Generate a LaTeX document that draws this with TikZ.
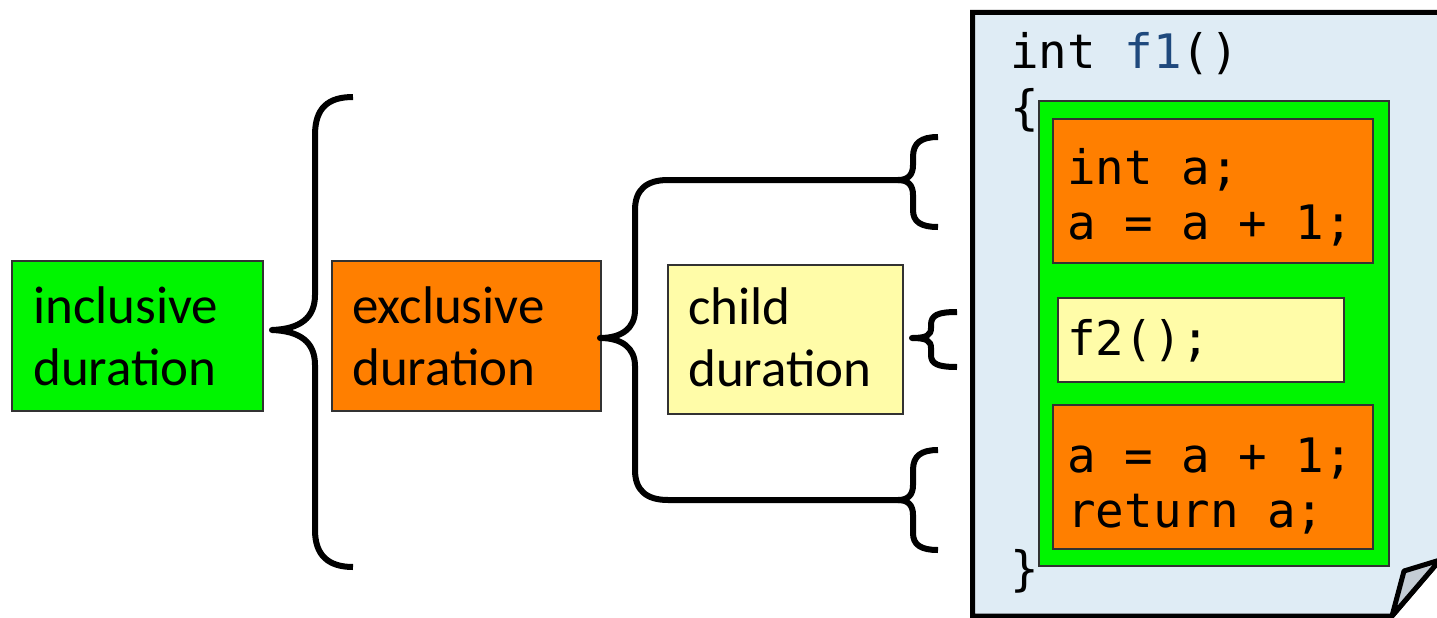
\documentclass[tikz,border=0pt]{standalone}
\usepackage{fontspec}
\setmainfont{Carlito}
\newfontfamily\codefont{DejaVu Sans Mono}
\definecolor{incgreen}{RGB}{0,245,0}
\definecolor{excorange}{RGB}{255,127,0}
\definecolor{childyellow}{RGB}{255,252,168}
\definecolor{pageblue}{RGB}{223,236,245}
\definecolor{flapgray}{RGB}{196,205,213}
\definecolor{fblue}{RGB}{31,73,125}
\definecolor{edgegray}{RGB}{50,50,50}
\frenchspacing
\begin{document}
\begin{tikzpicture}[x=1pt,y=-1pt,
  box/.style={draw=edgegray, line width=1.5pt, inner sep=0pt, anchor=north west},
  lbl/.style={font=\fontsize{53}{62}\selectfont, text width=240pt, align=left, inner sep=0pt, anchor=base west},
  code/.style={font=\codefont\fontsize{47.5}{55}\selectfont, inner sep=0pt, anchor=base west,
    execute at begin node={\spaceskip=\fontdimen2\font\xspaceskip=\fontdimen2\font\relax}},
  codeblk/.style={code, text width=320pt},
  brace/.style={line width=6pt, line join=round}]
\useasboundingbox (0,0) rectangle (1437,618);
\clip (0,0) rectangle (1437,618);

% left boxes
\node[box, fill=incgreen, minimum width=251pt, minimum height=150pt] (inc) at (11,260) {};
\node[lbl] (inctext) at (33,323) {inclusive\\duration};
\node[box, fill=excorange, minimum width=269pt, minimum height=150pt] (exc) at (331,260) {};
\node[lbl] (exctext) at (352,323) {exclusive\\duration};
\node[box, fill=childyellow, minimum width=235pt, minimum height=149pt] (chd) at (667,264) {};
\node[lbl] (chdtext) at (688,324) {child\\duration};

% braces
\draw[brace] (353,97) .. controls (328,97) and (315,108) .. (315,135) -- (315,295)
  .. controls (315,318) and (300,329) .. (272,330)
  .. controls (300,331) and (315,342) .. (315,365) -- (315,530)
  .. controls (315,555) and (328,567) .. (353,567);
\draw[brace] (903,180) -- (668,180) .. controls (646,180) and (635,190) .. (635,210) -- (635,310)
  .. controls (635,328) and (622,338) .. (600,338)
  .. controls (622,338) and (635,348) .. (635,366) -- (635,470)
  .. controls (635,490) and (646,500) .. (668,500) -- (903,500);
\draw[brace] (938,137) .. controls (921,137) and (913,143) .. (913,157) -- (913,165)
  .. controls (913,175) and (908,180) .. (898,180)
  .. controls (908,180) and (913,185) .. (913,195) -- (913,210)
  .. controls (913,222) and (921,227) .. (938,227);
\draw[brace] (957,312) .. controls (938,312) and (931,315) .. (931,325) -- (931,328)
  .. controls (931,335) and (927,338) .. (912,338)
  .. controls (927,338) and (931,341) .. (931,348) -- (931,355)
  .. controls (931,364) and (938,367) .. (957,367);
\draw[brace] (938,450) .. controls (921,450) and (913,456) .. (913,470) -- (913,485)
  .. controls (913,495) and (908,500) .. (898,500)
  .. controls (908,500) and (913,505) .. (913,515) -- (913,533)
  .. controls (913,545) and (921,550) .. (938,550);

% page
\draw[line width=5pt, fill=pageblue] (972.5,12.5) -- (1450,12.5) -- (1450,548) -- (1392,616) -- (972.5,616) -- cycle;
\draw[line width=5pt, fill=flapgray, line join=round] (1392,616) -- (1404,571) -- (1440,560) -- cycle;

% code boxes
\node[box, fill=incgreen, minimum width=350pt, minimum height=465pt] (body) at (1038,100) {};
\node[box, fill=excorange, minimum width=320pt, minimum height=144pt] (blk1) at (1052,118) {};
\node[box, fill=childyellow, minimum width=286pt, minimum height=84pt] (call) at (1057,297) {};
\node[box, fill=excorange, minimum width=320pt, minimum height=144pt] (blk2) at (1052,404) {};

% code text
\node[code] (sig) at (1010,68) {int \textcolor{fblue}{f1}()};
\node[code] (ob) at (1010,124) {\{};
\node[code] (cb) at (1010,585) {\}};
\node[codeblk] (c1) at (1067,184) {int a;\\a = a + 1;};
\node[code] (c2) at (1067,355) {f2();};
\node[codeblk] (c3) at (1067,472) {a = a + 1;\\return a;};
\end{tikzpicture}
\end{document}
